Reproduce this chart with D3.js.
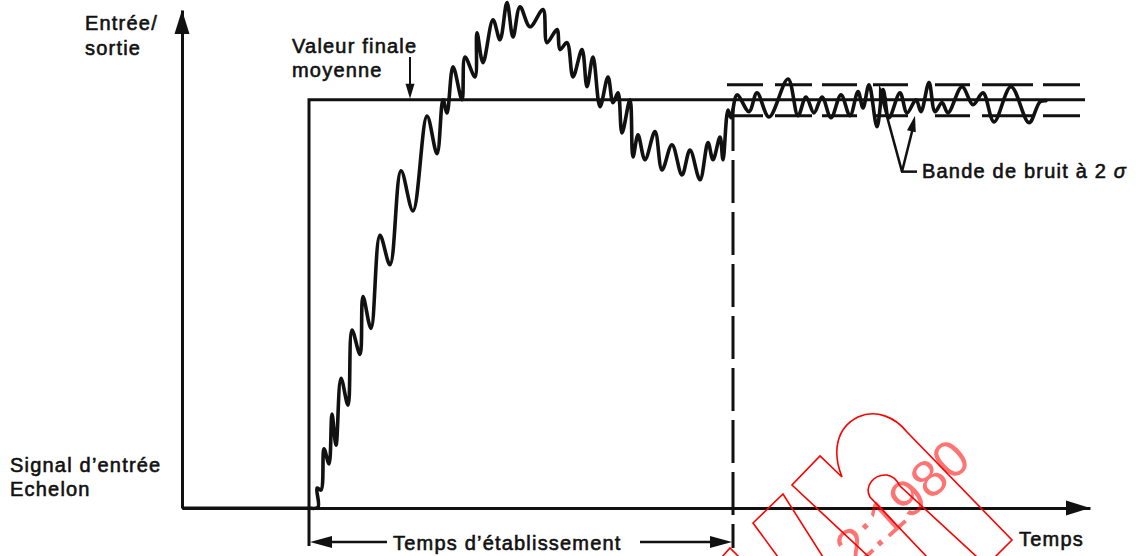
<!DOCTYPE html>
<html>
<head>
<meta charset="utf-8">
<script src="https://cdn.jsdelivr.net/npm/d3@7"></script>
<style>
body { margin: 0; background: #fff; }
text { font-family: "Liberation Sans", Arial, sans-serif; font-size: 20px; fill: #111; stroke: #111; stroke-width: 0.6px; letter-spacing: 1.2px; }
</style>
</head>
<body>
<div id="chart"></div>
<script>
// Output of the system: time (arbitrary units), output in % of final value
var respTime = [12.7, 13.6, 13.5, 13.9, 14.2, 14.7, 15.0, 15.4, 15.9, 16.6,
    17.0, 17.8, 18.1, 18.9, 19.8, 20.8, 21.9, 23.1, 24.5, 25.5,
    26.1, 26.5, 27.1, 28.0, 28.3, 29.3, 29.5, 30.1, 31.1, 31.8,
    32.5, 33.1, 33.8, 34.8, 36.1, 36.5, 37.5, 37.8, 38.5, 39.1,
    40.0, 40.5, 41.1, 41.8, 42.6, 43.1, 43.6, 44.0, 44.8, 45.1,
    45.6, 46.3, 47.3, 48.0, 49.0, 50.0, 50.8, 51.8, 52.6, 53.1,
    53.8, 54.1, 54.6, 54.9, 55.5, 56.7, 57.5, 58.7, 60.6, 61.6,
    62.4, 63.2, 64.0, 64.9, 65.9, 66.8, 67.6, 68.1, 68.7, 69.5,
    70.1, 70.7, 71.8, 72.5, 73.4, 73.9, 74.7, 75.3, 76.0, 76.6,
    78.0, 79.1, 80.1, 81.2, 82.9, 84.7, 85.8, 86.4];
var respValue = [0, 0.2, 4.9, 4.4, 14.5, 10.8, 23.0, 15.4, 31.8, 25.2,
    43.6, 37.6, 51.8, 44.0, 66.8, 59.6, 82.6, 72.8, 96.0, 86.8,
    100, 96.8, 108.1, 100, 110.5, 105.6, 116.4, 109.1, 119.6, 114.7,
    123.8, 115.4, 122.8, 117.9, 122.1, 114.0, 117.2, 112.3, 114.0, 105.6,
    112.3, 103.2, 110.5, 98.3, 105.6, 99.3, 101.7, 91.9, 100, 86.0,
    91.4, 85.3, 92.2, 82.8, 89.0, 81.6, 87.7, 80.4, 89.5, 85.3,
    90.9, 85.3, 97.5, 95.6, 101.2, 97.1, 101.7, 95.8, 105.1, 96.1,
    100.7, 96.8, 100.7, 95.6, 101.2, 96.1, 102.0, 98.0, 103.7, 93.4,
    102.5, 95.6, 101.7, 96.8, 100, 97.1, 104.2, 97.1, 99.3, 96.8,
    103.2, 98.8, 101.7, 94.6, 103.2, 94.4, 99.5, 99.8];

// Step input signal
var inputTime = [0, 12.7, 12.7, 90.3];
var inputValue = [0, 0, 100, 100];

// 2 sigma noise band and settling time
var bandLevels = [96.1, 103.7];
var bandStart = 54.5, bandEnd = 90;
var settlingTime = 55.1;
var finalValue = 100;

var width = 1138, height = 556;

var svg = d3.select("#chart").append("svg")
    .attr("width", width)
    .attr("height", height);

var x = d3.scaleLinear().domain([0, 90.8]).range([182, 1090]);
var y = d3.scaleLinear().domain([0, 122]).range([508, 10]);

var ink = "#111";

function arrowHead(tipX, tipY, fromX, fromY, len, wid) {
    var a = Math.atan2(tipY - fromY, tipX - fromX);
    var bx = tipX - len * Math.cos(a), by = tipY - len * Math.sin(a);
    var px = -Math.sin(a) * wid / 2, py = Math.cos(a) * wid / 2;
    svg.append("path")
        .attr("d", "M" + tipX + "," + tipY + "L" + (bx + px) + "," + (by + py) + "L" + (bx - px) + "," + (by - py) + "Z")
        .attr("fill", ink);
}

function seg(x1, y1, x2, y2, dash) {
    return svg.append("line")
        .attr("x1", x1).attr("y1", y1).attr("x2", x2).attr("y2", y2)
        .attr("stroke", ink).attr("stroke-width", 3)
        .attr("stroke-dasharray", dash || null);
}

// axes, no ticks
var xAxis = svg.append("g")
    .attr("transform", "translate(0," + y(0) + ")")
    .call(d3.axisBottom(x).tickValues([]).tickSizeOuter(0));
var yAxis = svg.append("g")
    .attr("transform", "translate(" + x(0) + ",0)")
    .call(d3.axisLeft(y).tickValues([]).tickSizeOuter(0));
svg.selectAll(".domain").attr("stroke", ink).attr("stroke-width", 3);
arrowHead(x.range()[1], y(0), x(0), y(0), 24, 15);
arrowHead(x(0), y.range()[1], x(0), y(0), 24, 15);

// step input
var line = d3.line().x(d => x(d[0])).y(d => y(d[1]));
svg.append("path")
    .datum(d3.zip(inputTime, inputValue))
    .attr("d", line)
    .attr("fill", "none")
    .attr("stroke", ink)
    .attr("stroke-width", 3);

// noise band
var bandDash = "36,12,37,10,35,16,35,27,35,12,51,10,37";
bandLevels.forEach(function(v) {
    seg(x(bandStart), y(v), x(bandEnd), y(v), bandDash);
});

// settling time marker
seg(x(settlingTime), y(98), x(settlingTime), y(0) + 40, "43,9");
seg(x(inputTime[1]), y(0), x(inputTime[1]), y(0) + 38);

// response
svg.append("path")
    .datum(d3.zip(respTime, respValue))
    .attr("d", d3.line().x(d => x(d[0])).y(d => y(d[1])).curve(d3.curveCatmullRom.alpha(0.5)))
    .attr("fill", "none")
    .attr("stroke", ink)
    .attr("stroke-width", 3.6)
    .attr("stroke-linejoin", "round")
    .attr("stroke-linecap", "round");

// settling time arrow
var ay = y(0) + 34;
seg(x(inputTime[1]) + 18, ay, 387, ay).attr("stroke-width", 2.5);
seg(640, ay, x(settlingTime) - 18, ay).attr("stroke-width", 2.5);
arrowHead(x(inputTime[1]) + 1, ay, 387, ay, 22, 12);
arrowHead(x(settlingTime) - 1, ay, 640, ay, 22, 12);

// final value arrow
var fx = x(22.8);
seg(fx, 57, fx, y(finalValue) - 12).attr("stroke-width", 2);
arrowHead(fx, y(finalValue) - 1, fx, 57, 15, 9);

// noise band arrows
var vx = x(72.0), vy = y(82.4);
seg(vx, vy, x(69.7) + 1.5, y(bandLevels[1]) + 8).attr("stroke-width", 2.5);
seg(vx, vy, x(73.3) - 1, y(bandLevels[0]) + 8).attr("stroke-width", 2.5);
seg(vx - 1, vy, x(73.5), vy).attr("stroke-width", 2.5);
arrowHead(x(69.7), y(bandLevels[1]), vx, vy, 16, 9);
arrowHead(x(73.3), y(bandLevels[0]), vx, vy, 16, 9);

// labels
var labels = [
    ["Entrée/", 85, 30],
    ["sortie", 85, 55],
    ["Valeur finale", 292, 53],
    ["moyenne", 292, 77],
    ["Signal d’entrée", 10, 472],
    ["Echelon", 10, 496],
    ["Temps d’établissement", 393, 550],
    ["Temps", 1019, 546]
];
svg.selectAll("text.lbl")
    .data(labels)
    .enter().append("text")
    .attr("class", "lbl")
    .attr("x", d => d[1])
    .attr("y", d => d[2])
    .text(d => d[0]);

var bande = svg.append("text").attr("x", 922).attr("y", 178);
bande.append("tspan").text("Bande de bruit à 2 ");
bande.append("tspan").attr("font-style", "italic").text("σ");

// red watermark stamp
var wm = svg.append("g").attr("fill", "none").attr("stroke", "#f00").attr("stroke-width", 1.6);
wm.append("path").attr("d", "M722,557L730,548L739,557");
wm.append("path").attr("d", "M778,557L753,523L783,494L823,557");
wm.append("path").attr("d", "M869,557L792,485L820,456L842,477C832,452 836,428 858,417C876,409 895,417 907,432L1012,540L995,557");
wm.append("path").attr("d", "M927,557L870,497C864,486 874,474 887,475C893,476 897,480 900,486L977,557");
svg.append("text")
    .attr("transform", "translate(855,569) rotate(-42)")
    .style("font-size", "52px")
    .style("fill", "#f00")
    .style("fill-opacity", 0.55)
    .style("stroke", "none")
    .style("letter-spacing", "0px")
    .text("2:1980");
</script>
</body>
</html>
